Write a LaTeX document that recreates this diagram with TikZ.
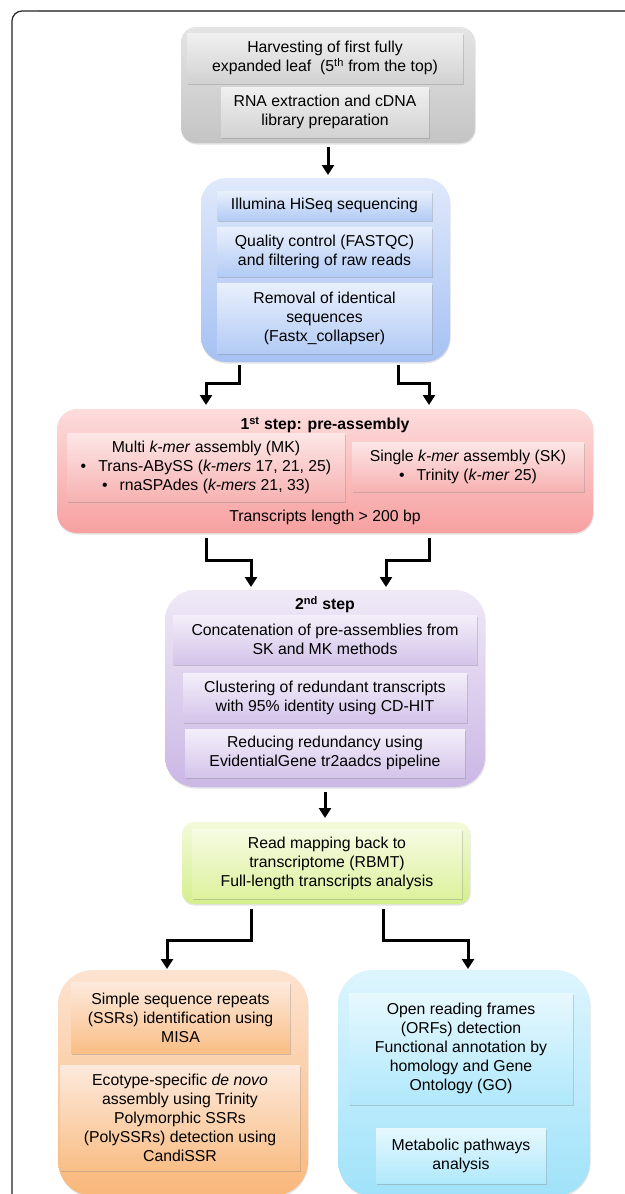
\documentclass[tikz,border=0pt]{standalone}
\usepackage{fontspec}
\setmainfont{Liberation Sans}
\usetikzlibrary{shadows,arrows.meta,calc}
\newcommand\fs{\fontsize{15.8}{19}\selectfont}
\newcommand\mybox[7]{\node[#6, minimum width={(#4)-(#2)}, minimum height={(#5)-(#3)}] (#1) at ({((#2)+(#4))/2},{((#3)+(#5))/2}) {#7};}
\definecolor{grT}{HTML}{E4E4E4}\definecolor{grB}{HTML}{C4C4C4}
\definecolor{griT}{HTML}{F0F0F0}\definecolor{griB}{HTML}{D2D2D2}
\definecolor{blT}{HTML}{E0E9FB}\definecolor{blB}{HTML}{A6C1F3}
\definecolor{bliT}{HTML}{E9F0FC}\definecolor{bliB}{HTML}{B3CBF5}
\definecolor{rdT}{HTML}{FDDCDC}\definecolor{rdB}{HTML}{F7A0A0}
\definecolor{rdiT}{HTML}{FDE6E6}\definecolor{rdiB}{HTML}{F7B2B2}
\definecolor{puT}{HTML}{EFE9F7}\definecolor{puB}{HTML}{CBB7E5}
\definecolor{puiT}{HTML}{F4EFFA}\definecolor{puiB}{HTML}{D4C4EA}
\definecolor{gnT}{HTML}{F3FADB}\definecolor{gnB}{HTML}{D5EF8C}
\definecolor{gniT}{HTML}{F6FBE3}\definecolor{gniB}{HTML}{DDF29E}
\definecolor{orT}{HTML}{FDE3D1}\definecolor{orB}{HTML}{F9B87B}
\definecolor{oriT}{HTML}{FDEADD}\definecolor{oriB}{HTML}{F9BE86}
\definecolor{cyT}{HTML}{DDF5FD}\definecolor{cyB}{HTML}{A0E2FA}
\definecolor{cyiT}{HTML}{E7F8FE}\definecolor{cyiB}{HTML}{B0E8FB}
\begin{document}
\begin{tikzpicture}[x=1pt,y=-1pt,
  every node/.style={font=\fs, inner sep=1pt, outer sep=0pt, align=center},
  outer/.style={rounded corners=#1, drop shadow={shadow xshift=0.6pt, shadow yshift=-1.5pt, opacity=0.22}},
  inbox/.style={drop shadow={shadow xshift=0.6pt, shadow yshift=-1.6pt, opacity=0.35}},
  sgray/.style={top color=grT, bottom color=grB},
  sgrayi/.style={top color=griT, bottom color=griB},
  sblue/.style={top color=blT, bottom color=blB},
  sbluei/.style={top color=bliT, bottom color=bliB},
  sred/.style={top color=rdT, bottom color=rdB},
  sredi/.style={top color=rdiT, bottom color=rdiB},
  spur/.style={top color=puT, bottom color=puB},
  spuri/.style={top color=puiT, bottom color=puiB},
  sgrn/.style={top color=gnT, bottom color=gnB},
  sgrni/.style={top color=gniT, bottom color=gniB},
  sorg/.style={top color=orT, bottom color=orB},
  sorgi/.style={top color=oriT, bottom color=oriB},
  scyan/.style={top color=cyT, bottom color=cyB},
  scyani/.style={top color=cyiT, bottom color=cyiB},
  arr/.style={line width=3pt, -{Triangle[width=12pt,length=10pt]}},
  ttl/.style={font=\fs\bfseries}
]
\useasboundingbox (0,0) rectangle (624,1194);
\fill[white] (0,0) rectangle (624,1194);
% frame
\draw[black!85, line width=1.2pt, rounded corners=10pt] (12,1196) -- (12,11) -- (40,11);
\draw[black!60, line width=1.6pt] (38,11) -- (626,11);

% gray
\mybox{gray}{181}{27}{475}{143}{outer=15pt, sgray}{}
\mybox{harv}{187}{33}{463}{83}{inbox, sgrayi}{Harvesting of first fully\\expanded leaf~ (5\textsuperscript{th} from the top)}
\mybox{rna}{221}{87}{429}{137}{inbox, sgrayi}{RNA extraction and cDNA\\library preparation}

% blue
\mybox{blue}{201}{178}{450}{362}{outer=25pt, sblue}{}
\mybox{illum}{217}{191}{432}{220}{inbox, sbluei}{Illumina HiSeq sequencing}
\mybox{qual}{217}{227}{432}{276}{inbox, sbluei}{Quality control (FASTQC)\\and filtering of raw reads}
\mybox{remov}{217}{283}{432}{353}{inbox, sbluei}{Removal of identical\\sequences\\(Fastx\_collapser)}

% red
\mybox{red}{57}{409}{593}{533}{outer=20pt, sred}{}
\node[ttl] (t1) at (325,425) {1\textsuperscript{st} step: pre-assembly};
\mybox{mk}{67}{433}{345}{501}{inbox, sredi}{Multi \emph{k-mer} assembly (MK)\\ •\hspace{12pt}Trans-ABySS (\emph{k-mers} 17, 21, 25)\\ •\hspace{12pt}rnaSPAdes (\emph{k-mers} 21, 33)}
\mybox{sk}{352}{442}{584}{491}{inbox, sredi}{Single \emph{k-mer} assembly (SK)\\ •\hspace{12pt}Trinity (\emph{k-mer} 25)}
\node (len) at (325,517) {Transcripts length > 200 bp};

% purple
\mybox{purple}{165}{590}{485}{787}{outer=30pt, spur}{}
\node[ttl] (t2) at (325,605) {2\textsuperscript{nd} step};
\mybox{concat}{173}{615}{477}{664}{inbox, spuri}{Concatenation of pre-assemblies from\\SK and MK methods}
\mybox{clust}{183}{673}{467}{722}{inbox, spuri}{Clustering of redundant transcripts\\with 95\% identity using CD-HIT}
\mybox{reduce}{185}{729}{465}{777}{inbox, spuri}{Reducing redundancy using\\EvidentialGene tr2aadcs pipeline}

% green
\mybox{green}{182}{822}{470}{904}{outer=12pt, sgrn}{}
\mybox{rbmt}{192}{829}{462}{898}{inbox, sgrni}{Read mapping back to\\transcriptome (RBMT)\\Full-length transcripts analysis}

% orange
\mybox{orange}{58}{970}{308}{1196}{outer=35pt, sorg}{}
\mybox{ssr}{71}{982}{290}{1053}{inbox, sorgi}{Simple sequence repeats\\(SSRs) identification using\\MISA}
\mybox{eco}{60}{1065}{300}{1170}{inbox, sorgi}{Ecotype-specific \emph{de novo}\\assembly using Trinity\\Polymorphic SSRs\\(PolySSRs) detection using\\CandiSSR}

% cyan
\mybox{cyan}{338}{970}{590}{1196}{outer=35pt, scyan}{}
\mybox{orf}{349}{993}{573}{1104}{inbox, scyani}{Open reading frames\\(ORFs) detection\\Functional annotation by\\homology and Gene\\Ontology (GO)}
\mybox{meta}{376}{1128}{546}{1183}{inbox, scyani}{Metabolic pathways\\analysis}

% arrows
\draw[arr] ([yshift=-4pt]gray.south) -- ([yshift=3pt]gray.south |- blue.north);
\draw[arr] ([xshift=-86.5pt,yshift=-3pt]blue.south) -- ++(0,18) -| ([xshift=-119pt,yshift=4pt]red.north);
\draw[arr] ([xshift=72.5pt,yshift=-3pt]blue.south) -- ++(0,18) -| ([xshift=104pt,yshift=4pt]red.north);
\draw[arr] ([xshift=-119pt,yshift=-5pt]red.south) -- ++(0,22) -| ([xshift=-74pt,yshift=3pt]purple.north);
\draw[arr] ([xshift=104pt,yshift=-5pt]red.south) -- ++(0,22) -| ([xshift=61pt,yshift=3pt]purple.north);
\draw[arr] ([yshift=-5pt]purple.south) -- ([yshift=4pt]purple.south |- green.north);
\draw[arr] ([xshift=-75pt,yshift=-5pt]green.south) -- ++(0,31) -| ([xshift=-16pt,yshift=1pt]orange.north);
\draw[arr] ([xshift=57pt,yshift=-5pt]green.south) -- ++(0,31) -| ([xshift=4pt,yshift=1pt]cyan.north);
\end{tikzpicture}
\end{document}
